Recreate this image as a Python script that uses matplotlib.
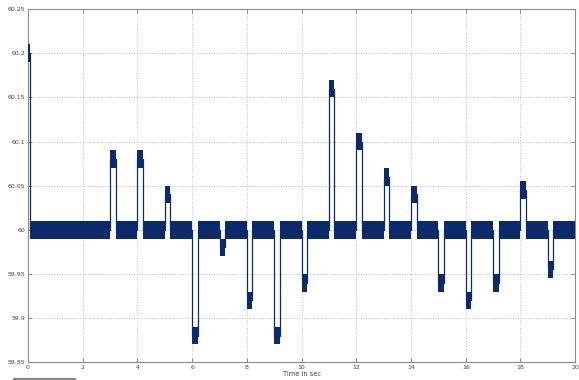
import numpy as np
import matplotlib
matplotlib.use("Agg")
import matplotlib.pyplot as plt
from matplotlib.lines import Line2D

# ── Data ────────────────────────────────────────────────────
nominal_f = 60.0          # Hz, steady level
ripple = 0.01             # half-width of the fast oscillation band
start_f = 60.20           # initial transient level
start_end = 0.08          # s, end of initial transient
event_len = 0.2           # s, duration of each disturbance
event_t = [3, 4, 5, 6, 7, 8, 9, 10, 11, 12, 13, 14, 15, 16, 17, 18, 19]
event_f = [60.08, 60.08, 60.04, 59.88, 59.98, 59.92, 59.88, 59.94,
           60.16, 60.10, 60.06, 60.04, 59.94, 59.92, 59.94, 60.045, 59.955]
t_end = 20

x_ticks = [0, 2, 4, 6, 8, 10, 12, 14, 16, 18, 20]
y_ticks = [59.85, 59.9, 59.95, 60, 60.05, 60.1, 60.15, 60.2, 60.25]
y_ticklabels = ["59.85", "59.9", "59.95", "60", "60.05", "60.1", "60.15", "60.2", "60.25"]

NAVY = "#0b2a6c"

# step signal: time breakpoints and the level held from each one
times = [0, start_end]
levels = [start_f, nominal_f]
for t0, f0 in zip(event_t, event_f):
    times += [t0, t0 + event_len]
    levels += [f0, nominal_f]
times.append(t_end)
levels.append(nominal_f)

# ── Figure ───────────────────────────────────────────────────
fig = plt.figure(figsize=(5.79, 3.80), dpi=100)
ax = fig.add_axes([0.0484, 0.047, 0.945, 0.929])

# oscillation band, one block per constant segment
for i in range(len(times) - 1):
    t0, t1, f0 = times[i], times[i + 1], levels[i]
    ax.fill_between([t0, t1], f0 - ripple, f0 + ripple,
                    color=NAVY, linewidth=0, zorder=3)
# jumps between levels
ax.step(times, levels, where="post", color=NAVY, lw=0.9, zorder=2)

ax.set_xlim(0, 20)
ax.set_ylim(59.85, 60.25)
ax.set_xticks(x_ticks)
ax.set_yticks(y_ticks)
ax.set_yticklabels(y_ticklabels)
ax.tick_params(direction="in", length=3, width=0.6, colors="#777777",
               labelsize=4.5, labelcolor="#444444", pad=2,
               top=True, right=True)
ax.grid(True, linestyle=":", color="#bdbdbd", linewidth=0.7)
ax.set_axisbelow(True)
for s in ax.spines.values():
    s.set_color("#8a8a8a")
    s.set_linewidth(0.8)

ax.set_xlabel("Time in sec", fontsize=4.8, color="#444444", labelpad=1)

# small grey bar bottom-left (window artefact)
fig.add_artist(Line2D([0.024, 0.13], [0.003, 0.003], transform=fig.transFigure,
                      color="#888888", lw=1.5))

plt.savefig("out.png", dpi=100)
plt.close()
